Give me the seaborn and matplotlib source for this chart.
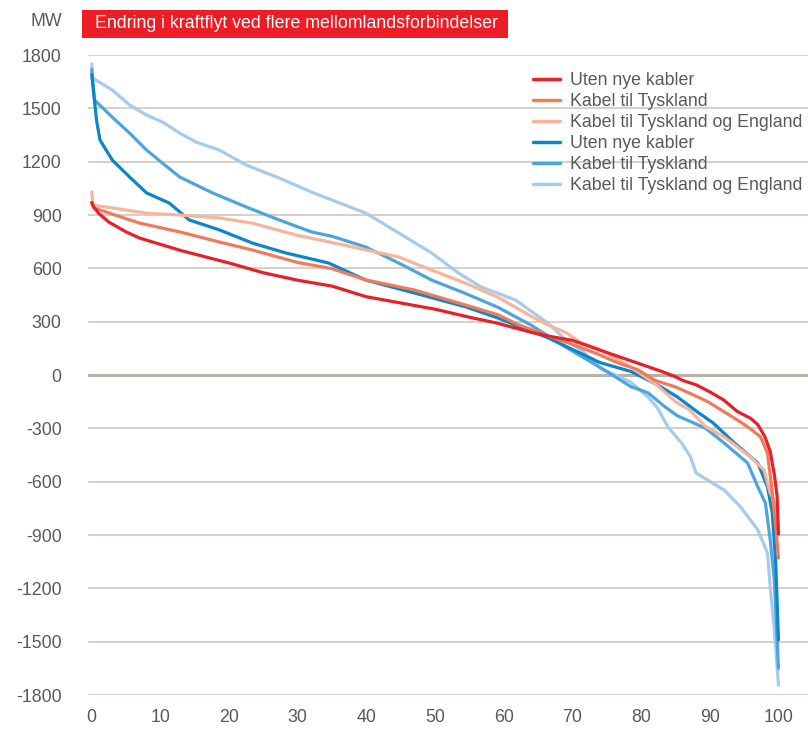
import matplotlib
matplotlib.use("Agg")
import matplotlib.pyplot as plt
from matplotlib.patches import Rectangle
from matplotlib.lines import Line2D
import seaborn as sns
import pandas as pd

# Duration curves: share of hours (%) vs. power flow change (MW)
red_x = [0, 0.3, 1, 2.5, 5, 7, 10, 13, 16, 20, 25, 30, 35, 40, 45, 50, 55, 59, 64, 67, 70, 74, 77, 80, 83,
         85, 86, 88, 90, 92, 94, 96, 97, 98, 98.8, 99.4, 99.8, 100]
red_y = [970, 945, 910, 860, 805, 770, 735, 700, 670, 630, 575, 533, 500, 440, 405, 370, 325, 292, 240, 215,
         195, 140, 100, 60, 20, -10, -30, -55, -95, -140, -205, -245, -280, -345, -430, -560, -680, -895]

orange_x = [0, 0.3, 2.6, 7, 12.8, 18.6, 23.4, 30, 35, 40, 47, 54.4, 59.2, 62, 66.5, 70, 73.7, 76.5, 79.5,
            82, 85, 87.5, 89.7, 92, 94.5, 96, 97.4, 98.4, 99.1, 99.6, 100]
orange_y = [970, 940, 910, 854, 805, 748, 703, 633, 598, 534, 478, 394, 338, 285, 219, 172, 118, 70, 30,
            -30, -67, -110, -150, -205, -265, -305, -349, -439, -660, -850, -1030]

ltorange_x = [0, 0.2, 3, 8, 12.8, 18.6, 23.4, 30, 35, 40, 44.7, 49.5, 54.4, 59.2, 64, 66.5, 69, 71.3, 73.7,
              78.5, 82.4, 85, 87, 89.4, 92.1, 93.3, 95.9, 97.9, 98.8, 99.3, 99.6, 100]
ltorange_y = [1030, 955, 940, 910, 900, 883, 854, 785, 745, 703, 664, 590, 517, 436, 330, 280, 240, 180, 150,
              45, -60, -150, -195, -290, -349, -383, -461, -534, -664, -700, -800, -850]

blue_x = [0, 0.4, 0.7, 1.2, 3, 5.5, 8, 11.3, 14.2, 18.6, 23.4, 28.3, 34.5, 39.9, 47.2, 54.4, 59.2, 66.5,
          71.3, 74, 78.5, 81, 82.4, 85.3, 88.2, 90.5, 93.6, 97, 98.4, 99.1, 99.6, 100]
blue_y = [1690, 1547, 1434, 1322, 1209, 1114, 1024, 967, 872, 816, 742, 686, 630, 534, 459, 384, 320, 208,
          120, 70, 20, -28, -56, -124, -208, -270, -383, -495, -630, -776, -1058, -1490]

midblue_x = [0, 0.4, 3, 5.5, 8, 10.3, 12.8, 17.6, 22.5, 27.3, 32, 35, 39.9, 44.7, 49.5, 54.4, 59.2, 64,
             68.9, 73.7, 78.5, 81, 83.5, 85.3, 87.2, 89.4, 92.1, 95.5, 97, 98.1, 98.8, 99.4, 100]
midblue_y = [1720, 1547, 1450, 1361, 1265, 1192, 1114, 1024, 945, 872, 805, 780, 720, 630, 534, 459, 380, 280,
             160, 50, -65, -100, -180, -230, -262, -300, -383, -495, -630, -720, -928, -1153, -1650]

ltblue_x = [0, 0.15, 3, 5.5, 8, 10.3, 12.8, 15.2, 18.6, 22.5, 27.3, 32, 35, 39.9, 44.7, 49.5, 53.4, 56.7,
            61.7, 66.5, 69.2, 71.3, 74, 78.5, 81, 82.4, 83.9, 85.9, 87.2, 88, 90.9, 92.1, 94.5, 97, 98.4,
            98.8, 99.4, 100]
ltblue_y = [1750, 1670, 1603, 1519, 1462, 1423, 1361, 1310, 1265, 1181, 1108, 1029, 984, 911, 799, 686, 574,
            495, 422, 290, 190, 140, 40, -40, -124, -186, -292, -383, -461, -551, -620, -647, -743, -872,
            -1001, -1192, -1434, -1745]

labels = ["Uten nye kabler", "Kabel til Tyskland", "Kabel til Tyskland og England",
          "Uten nye kabler", "Kabel til Tyskland", "Kabel til Tyskland og England"]
colors = ["#e8202a", "#ef7b5b", "#f8b59c", "#0b87c9", "#4ea5de", "#a8cbec"]
series = [(red_x, red_y), (orange_x, orange_y), (ltorange_x, ltorange_y),
          (blue_x, blue_y), (midblue_x, midblue_y), (ltblue_x, ltblue_y)]

yticks = list(range(-1800, 1801, 300))
xticks = list(range(0, 101, 10))

sns.set_style("white")
plt.rcParams["font.family"] = ["Liberation Sans", "DejaVu Sans"]

fig = plt.figure(figsize=(8.08, 7.3), dpi=100)
W, H = 808, 730
ax = fig.add_axes([88 / W, 35 / H, 720 / W, 640 / H])

frames = []
for i, ((xs, ys), lab) in enumerate(zip(series, labels)):
    frames.append(pd.DataFrame({"andel": xs, "MW": ys, "serie": i}))
df = pd.concat(frames, ignore_index=True)

# Light blues first, red drawn on top
for i in [5, 4, 3, 2, 1, 0]:
    sub = df[df["serie"] == i]
    sns.lineplot(data=sub, x="andel", y="MW", color=colors[i], linewidth=2.3,
                 ax=ax, legend=False, clip_on=False, solid_joinstyle="round")

ax.set_xlim(-0.54, 104.3)
ax.set_ylim(-1800, 1800)
ax.set_yticks(yticks)
ax.set_xticks(xticks)
ax.set_yticklabels([str(v) for v in yticks])
ax.set_xticklabels([str(v) for v in xticks])
ax.set_xlabel("")
ax.set_ylabel("")
ax.grid(axis="y", color="#cdc4bb", linewidth=1.1)
ax.grid(axis="x", visible=False)
ax.axhline(0, color="#bbb1a7", linewidth=2.2, zorder=1)
for s in ax.spines.values():
    s.set_visible(False)
ax.tick_params(axis="y", length=0, pad=19, labelsize=12.8, labelcolor="#595959")
ax.tick_params(axis="x", length=0, pad=10, labelsize=12.8, labelcolor="#595959")

# Title box
fig.patches.append(Rectangle((82 / W, (H - 38) / H), 426 / W, 28 / H,
                             transform=fig.transFigure, facecolor="#ee1d25",
                             edgecolor="none", zorder=0))
fig.text(95 / W, (H - 24) / H, "Endring i kraftflyt ved flere mellomlandsforbindelser",
         color="white", fontsize=12.8, va="center", ha="left")
fig.text(62 / W, (H - 21) / H, "MW", color="#595959", fontsize=12.8, va="center", ha="right")

handles = [Line2D([0], [0], color=c, linewidth=2.5) for c in colors]
leg = fig.legend(handles, labels, loc="upper left", bbox_to_anchor=(533 / W, (H - 72) / H),
                 frameon=False, fontsize=12.8, handlelength=1.52, handletextpad=0.56,
                 labelspacing=0.23, borderpad=0, borderaxespad=0)
for t in leg.get_texts():
    t.set_color("#595959")

fig.savefig("out.png", dpi=100)
